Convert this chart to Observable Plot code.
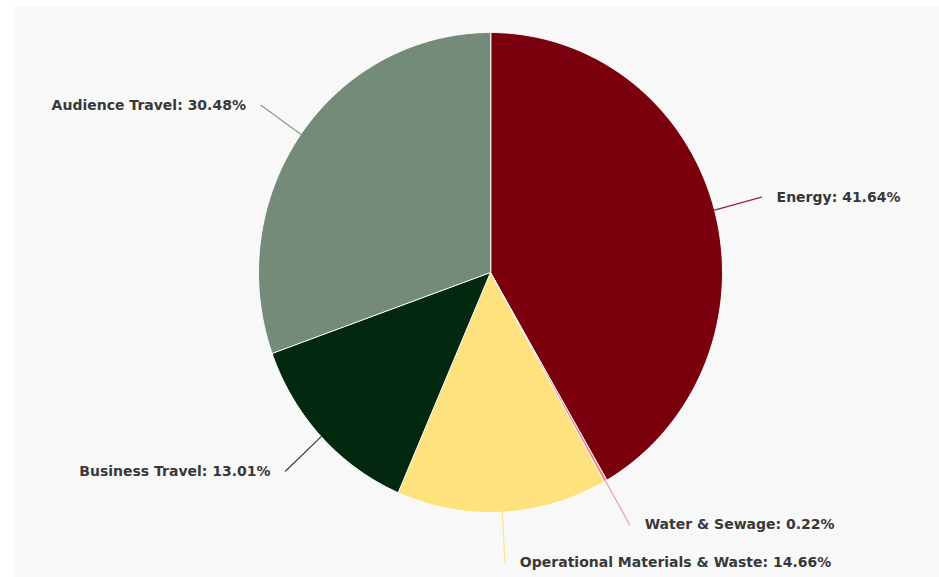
<!DOCTYPE html>
<html>
<head>
<meta charset="utf-8">
<script src="https://cdn.jsdelivr.net/npm/d3@7"></script>
<script src="https://cdn.jsdelivr.net/npm/@observablehq/plot@0.6"></script>
<style>
  html, body { margin: 0; padding: 0; background: #ffffff; }
  #wrap { padding: 6px 0 0 15px; width: 924px; height: 571px; }
  svg { display: block; }
</style>
</head>
<body>
<div id="wrap"></div>
<script>
// Data (clockwise from 12 o'clock)
const categories = ["Energy", "Water & Sewage", "Operational Materials & Waste", "Business Travel", "Audience Travel"];
const shares = [41.64, 0.22, 14.66, 13.01, 30.48];
const sliceColors = ["#7b000d", "#f08a8a", "#fde27e", "#032810", "#748b79"];

// Build slice outlines and label anchors from the shares
const total = d3.sum(shares);
let acc = 0;
const slicePts = [];
const labels = [];
const connectors = [];
categories.forEach((name, i) => {
  const a0 = acc / total * 2 * Math.PI;
  acc += shares[i];
  const a1 = acc / total * 2 * Math.PI;
  slicePts.push({name, x: 0, y: 0});
  const n = Math.max(2, Math.ceil((a1 - a0) / (Math.PI / 360)));
  for (let k = 0; k <= n; k++) {
    const a = a0 + (a1 - a0) * k / n;
    slicePts.push({name, x: Math.sin(a), y: Math.cos(a)});
  }
  const am = (a0 + a1) / 2;
  const right = Math.sin(am) >= 0;
  const ro = 1.21;
  connectors.push({name, x: Math.sin(am), y: Math.cos(am)});
  connectors.push({name, x: ro * Math.sin(am), y: ro * Math.cos(am)});
  labels.push({name, right, x: ro * Math.sin(am), y: ro * Math.cos(am),
               text: `${name}: ${shares[i].toFixed(2)}%`});
});

const chart = Plot.plot({
  width: 924,
  height: 571,
  margin: 0,
  style: {background: "#f8f8f8", fontFamily: "DejaVu Sans, sans-serif"},
  x: {domain: [-1, 1], range: [475 - 232, 475 + 232], axis: null},
  y: {domain: [-1, 1], range: [266 + 240, 266 - 240], axis: null},
  color: {domain: categories, range: sliceColors},
  marks: [
    Plot.line(slicePts, {x: "x", y: "y", z: "name", fill: "name", stroke: "#ffffff",
                         strokeWidth: 1, curve: "linear-closed"}),
    Plot.line(connectors, {x: "x", y: "y", z: "name", stroke: "name", strokeWidth: 1.2, strokeOpacity: 0.85}),
    Plot.text(labels.filter(d => d.right), {x: "x", y: "y", text: "text", textAnchor: "start",
              dx: 15, fill: "#383838", fontSize: 14, fontWeight: "bold"}),
    Plot.text(labels.filter(d => !d.right), {x: "x", y: "y", text: "text", textAnchor: "end",
              dx: -15, fill: "#383838", fontSize: 14, fontWeight: "bold"})
  ]
});
document.getElementById("wrap").appendChild(chart);
</script>
</body>
</html>
